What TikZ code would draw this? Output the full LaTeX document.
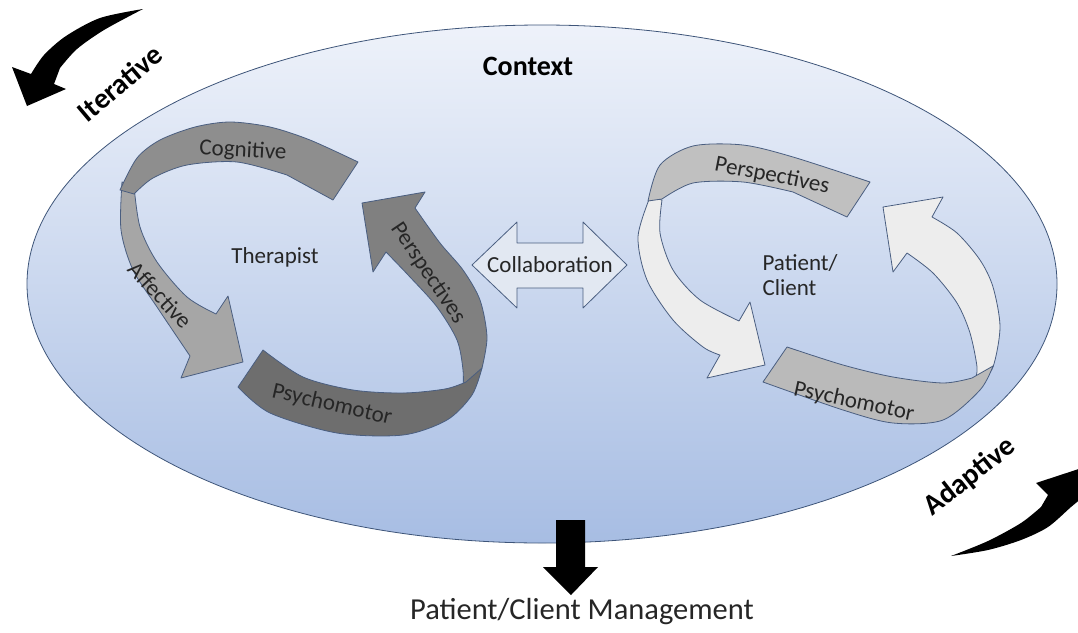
\documentclass[tikz,border=0pt]{standalone}
\usepackage{fontspec}
\setmainfont{Carlito}
\definecolor{ctxtop}{HTML}{EEF2FA}
\definecolor{ctxbot}{HTML}{A7BDE3}
\definecolor{ctxline}{HTML}{3E5579}
\definecolor{bandline}{HTML}{4A5E80}
\definecolor{txt}{HTML}{262626}
\definecolor{cogfill}{HTML}{8E8E8E}
\definecolor{afffill}{HTML}{A6A6A6}
\definecolor{psyfill}{HTML}{6E6E6E}
\definecolor{perfill}{HTML}{808080}
\definecolor{litefill}{HTML}{EDEDED}
\definecolor{midfill}{HTML}{C0C0C0}
\definecolor{colfill}{HTML}{E2E8F2}
\begin{document}
\begin{tikzpicture}[x=1pt, y=-1pt,
  band/.style={draw=bandline, line width=0.8pt, line join=round},
  lbl/.style={font=\fontsize{23}{25}\selectfont, text=txt, inner sep=0pt},
  swoosh/.style={fill=black, draw=none},
  turn/.style={font=\fontsize{29}{31}\selectfont\bfseries, inner sep=0pt}]
  \useasboundingbox (0,0) rectangle (1078,632);
  \clip (0,0) rectangle (1078,632);

  % context
  \draw [draw=ctxline, line width=0.8pt, top color=ctxtop, bottom color=ctxbot]
    (542,284) ellipse [x radius=515, y radius=259];

  % therapist cycle
  \filldraw [band, fill=afffill] plot [smooth] coordinates {(122,182) (121,230) (133,270) (157,307) (190,356)}
    -- (181,378) -- (243,362) -- (228,296)
    -- plot [smooth] coordinates {(216,314) (187,297) (157,262) (140,227) (134,186)} -- cycle;
  \filldraw [band, fill=cogfill] plot [smooth] coordinates {(120,190) (137,158) (160,140) (195,127) (230,122) (270,127) (310,140) (358,162)}
    -- (333,200)
    -- plot [smooth] coordinates {(287,175) (237,162) (187,165) (153,178) (134,194)} -- cycle;
  \filldraw [band, fill=perfill] plot [smooth] coordinates {(463,392) (463,370) (457,340) (437,307) (410,277) (386,252)}
    -- (373,272) -- (362,203) -- (425,192)
    -- plot [smooth] coordinates {(415,208) (440,243) (463,270) (480,300) (487,337) (482,368)} -- cycle;
  \filldraw [band, fill=psyfill] plot [smooth] coordinates {(263,350) (303,377) (353,390) (403,393) (445,389) (466,382)}
    -- plot [smooth] coordinates {(482,368) (472,395) (447,420) (403,435) (337,433) (270,413) (238,387)} -- cycle;

  % patient cycle
  \filldraw [band, fill=litefill] plot [smooth] coordinates {(650,197) (638,237) (647,280) (673,320) (703,347) (720,355)}
    -- (707,378) -- (765,365) -- (750,302)
    -- plot [smooth] coordinates {(739,321) (700,300) (673,270) (660,233) (662,200)} -- cycle;
  \filldraw [band, fill=midfill] plot [smooth] coordinates {(648,201) (660,165) (693,146) (743,145) (793,157) (870,182)}
    -- (847,217)
    -- plot [smooth] coordinates {(793,192) (743,182) (693,183) (662,199)} -- cycle;
  \filldraw [band, fill=litefill] plot [smooth] coordinates {(980,382) (993,367) (1000,327) (993,287) (980,260) (957,233) (932,217)}
    -- (943,197) -- (883,207) -- (893,272)
    -- plot [smooth] coordinates {(907,253) (933,273) (957,303) (970,333) (977,367) (975,380)} -- cycle;
  \filldraw [band, fill=midfill!97!black] plot [smooth] coordinates {(787,347) (843,365) (893,377) (943,383) (972,378)}
    -- plot [smooth] coordinates {(993,366) (980,390) (943,420) (893,423) (843,410) (763,382)} -- cycle;

  % collaboration
  \filldraw [band, fill=colfill] (472,265) -- (517,222) -- (517,243) -- (583,243) -- (583,222) -- (627,265)
    -- (583,308) -- (583,288) -- (517,288) -- (517,308) -- cycle;

  % management
  \fill [black] (556,520) -- (585,520) -- (585,567) -- (598,567) -- (571,595) -- (543,567) -- (556,567) -- cycle;

  % iterative / adaptive
  \fill [swoosh] plot [smooth] coordinates {(143,9) (100,18) (66,36) (44,55) (31,74)}
    -- (12,67) -- (27,106) -- (66,89) -- (54,84)
    -- plot [smooth] coordinates {(60,68) (77,49) (104,30) (143,9)} -- cycle;
  \fill [swoosh] plot [smooth] coordinates {(951,556) (988,550) (1021,540) (1048,527) (1071,507) (1082,498)}
    -- (1100,500) -- (1100,462) -- (1036,483) -- (1048,495)
    -- plot [smooth] coordinates {(1041,507) (1021,523) (988,541) (951,556)} -- cycle;

  \node [turn, rotate=40] (iter) at (120,83) {Iterative};
  \node [turn, rotate=38] (adapt) at (970,477) {Adaptive};
  \node [font=\fontsize{28}{30}\selectfont\bfseries, inner sep=0pt] (context) at (528,66) {Context};
  \node [font=\fontsize{30.5}{32}\selectfont, text=txt, inner sep=0pt] (mgmt) at (582,612) {Patient/Client Management};

  \node [lbl] (therapist) at (275,257) {Therapist};
  \node [lbl, rotate=-3] (cog) at (243,151) {Cognitive};
  \node [lbl, rotate=-47] (aff) at (160,295) {Affective};
  \node [lbl, rotate=-56] (perL) at (428,273) {Perspectives};
  \node [lbl, rotate=-13] (psyL) at (332,405) {Psychomotor};
  \node [lbl] (collab) at (550,265) {Collaboration};
  \node [lbl, align=left] (patient) at (800,275) {Patient/\\Client};
  \node [lbl, rotate=-11] (perR) at (772,176) {Perspectives};
  \node [lbl, rotate=-12] (psyR) at (854,402) {Psychomotor};
\end{tikzpicture}
\end{document}
